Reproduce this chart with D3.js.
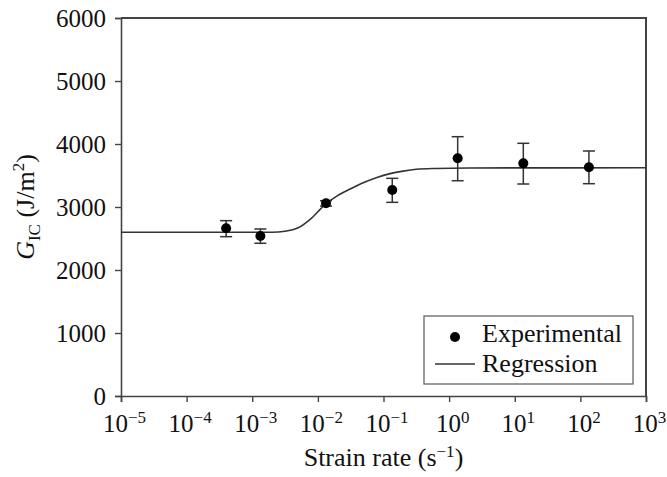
<!DOCTYPE html>
<html>
<head>
<meta charset="utf-8">
<script src="https://cdn.jsdelivr.net/npm/d3@7"></script>
<style>
  html, body { margin: 0; padding: 0; background: #fff; }
  svg { display: block; }
  svg text { font-family: "Liberation Serif", "Times New Roman", Tinos, "DejaVu Serif", serif; fill: #111; }
</style>
</head>
<body>
<svg id="chart" width="667" height="477"></svg>
<script>
// Measured fracture toughness vs. strain rate
const strainRate = [4.0e-4, 1.33e-3, 1.33e-2, 0.136, 1.35, 13.5, 135];
const gicMean    = [2662, 2540, 3059, 3270, 3773, 3693, 3630];
const gicLow     = [2529, 2424, 3015, 3074, 3417, 3365, 3370];
const gicHigh    = [2783, 2651, 3100, 3455, 4116, 4011, 3889];

// Regression curve sampled along log10(strain rate)
const fitLogRate = [-5, -2.7, -2.5, -2.3, -2.1, -1.9, -1.7, -1.5, -1.3, -1.1, -0.9, -0.7, -0.5, -0.2, 0.3, 3];
const fitGic     = [2600, 2600, 2615, 2670, 2820, 3030, 3180, 3290, 3390, 3470, 3530, 3570, 3598, 3612, 3620, 3622];

const xTickExps = [-5, -4, -3, -2, -1, 0, 1, 2, 3];
const yTicks = [0, 1000, 2000, 3000, 4000, 5000, 6000];

const svg = d3.select("#chart");
const plotLeft = 121, plotRight = 646, plotTop = 18, plotBottom = 396;

const x = d3.scaleLog().domain([1e-5, 1e3]).range([plotLeft, plotRight]);
const y = d3.scaleLinear().domain([0, 6000]).range([plotBottom, plotTop]);

const axisColor = "#444";
const serif = "Liberation Serif, Times New Roman, Tinos, DejaVu Serif, serif";

// Frame: top and right borders
svg.append("path")
  .attr("d", `M${plotLeft},${plotTop}H${plotRight}V${plotBottom}`)
  .attr("fill", "none").attr("stroke", axisColor).attr("stroke-width", 2);

// Y axis
const yAxis = svg.append("g").attr("transform", `translate(${plotLeft},0)`)
  .call(d3.axisLeft(y).tickValues(yTicks).tickSize(6).tickPadding(9).tickFormat(d3.format("d")))
  .attr("font-family", serif).attr("font-size", 25);
yAxis.select(".domain").attr("stroke", axisColor).attr("stroke-width", 1.6);
yAxis.selectAll(".tick line").attr("stroke", axisColor).attr("stroke-width", 1.4);
yAxis.selectAll(".tick text").attr("fill", "#111");

// X axis with power-of-ten labels
const xAxis = svg.append("g").attr("transform", `translate(0,${plotBottom})`)
  .call(d3.axisBottom(x).tickValues(xTickExps.map(e => Math.pow(10, e))).tickSize(6).tickFormat(() => ""))
  .attr("font-family", serif).attr("font-size", 25);
xAxis.select(".domain").attr("stroke", axisColor).attr("stroke-width", 1.6);
xAxis.selectAll(".tick line").attr("stroke", axisColor).attr("stroke-width", 1.4);
xAxis.selectAll(".tick text").remove();
xAxis.selectAll(".tick").each(function(d, i) {
  const e = xTickExps[i];
  const t = d3.select(this).append("text")
    .attr("x", 3).attr("y", 36).attr("text-anchor", "middle").attr("fill", "#111");
  t.append("tspan").text("10");
  t.append("tspan").attr("font-size", 17).attr("dy", -9)
    .text(e < 0 ? "\u2212" + Math.abs(e) : String(e));
});

// Regression curve
const line = d3.line()
  .x(d => x(Math.pow(10, d[0])))
  .y(d => y(d[1]))
  .curve(d3.curveMonotoneX);
svg.append("path")
  .datum(fitLogRate.map((v, i) => [v, fitGic[i]]))
  .attr("d", line)
  .attr("fill", "none").attr("stroke", "#333").attr("stroke-width", 1.6);

// Error bars and points
const pts = strainRate.map((r, i) => ({ r, m: gicMean[i], lo: gicLow[i], hi: gicHigh[i] }));
const eb = svg.append("g").attr("stroke", "#333").attr("stroke-width", 1.5);
pts.forEach(p => {
  const cx = x(p.r);
  eb.append("line").attr("x1", cx).attr("x2", cx).attr("y1", y(p.lo)).attr("y2", y(p.hi));
  eb.append("line").attr("x1", cx - 6).attr("x2", cx + 6).attr("y1", y(p.lo)).attr("y2", y(p.lo));
  eb.append("line").attr("x1", cx - 6).attr("x2", cx + 6).attr("y1", y(p.hi)).attr("y2", y(p.hi));
});
svg.append("g").selectAll("circle").data(pts).join("circle")
  .attr("cx", d => x(d.r)).attr("cy", d => y(d.m)).attr("r", 5).attr("fill", "#000");

// Legend
const lg = svg.append("g").attr("font-family", serif).attr("font-size", 26);
lg.append("rect").attr("x", 424).attr("y", 316).attr("width", 209).attr("height", 68)
  .attr("fill", "#fff").attr("stroke", "#666").attr("stroke-width", 1.3);
lg.append("circle").attr("cx", 455).attr("cy", 337).attr("r", 5).attr("fill", "#000");
lg.append("text").attr("x", 482).attr("y", 342).attr("fill", "#111").text("Experimental");
lg.append("line").attr("x1", 435).attr("x2", 475).attr("y1", 364).attr("y2", 364)
  .attr("stroke", "#333").attr("stroke-width", 1.6);
lg.append("text").attr("x", 482).attr("y", 372).attr("fill", "#111").text("Regression");

// Axis titles
const xt = svg.append("text").attr("x", (plotLeft + plotRight) / 2).attr("y", 466)
  .attr("text-anchor", "middle").attr("font-family", serif).attr("font-size", 26).attr("fill", "#111");
xt.append("tspan").text("Strain rate (s");
xt.append("tspan").attr("font-size", 17).attr("dy", -9).text("\u22121");
xt.append("tspan").attr("dy", 9).text(")");

const yt = svg.append("text")
  .attr("transform", `translate(34,${(plotTop + plotBottom) / 2}) rotate(-90)`)
  .attr("text-anchor", "middle").attr("font-family", serif).attr("font-size", 26).attr("fill", "#111");
yt.append("tspan").attr("font-style", "italic").text("G");
yt.append("tspan").attr("font-size", 17).attr("dy", 6).text("IC");
yt.append("tspan").attr("dy", -6).text(" (J/m");
yt.append("tspan").attr("font-size", 17).attr("dy", -10).text("2");
yt.append("tspan").attr("dy", 10).text(")");
</script>
</body>
</html>
